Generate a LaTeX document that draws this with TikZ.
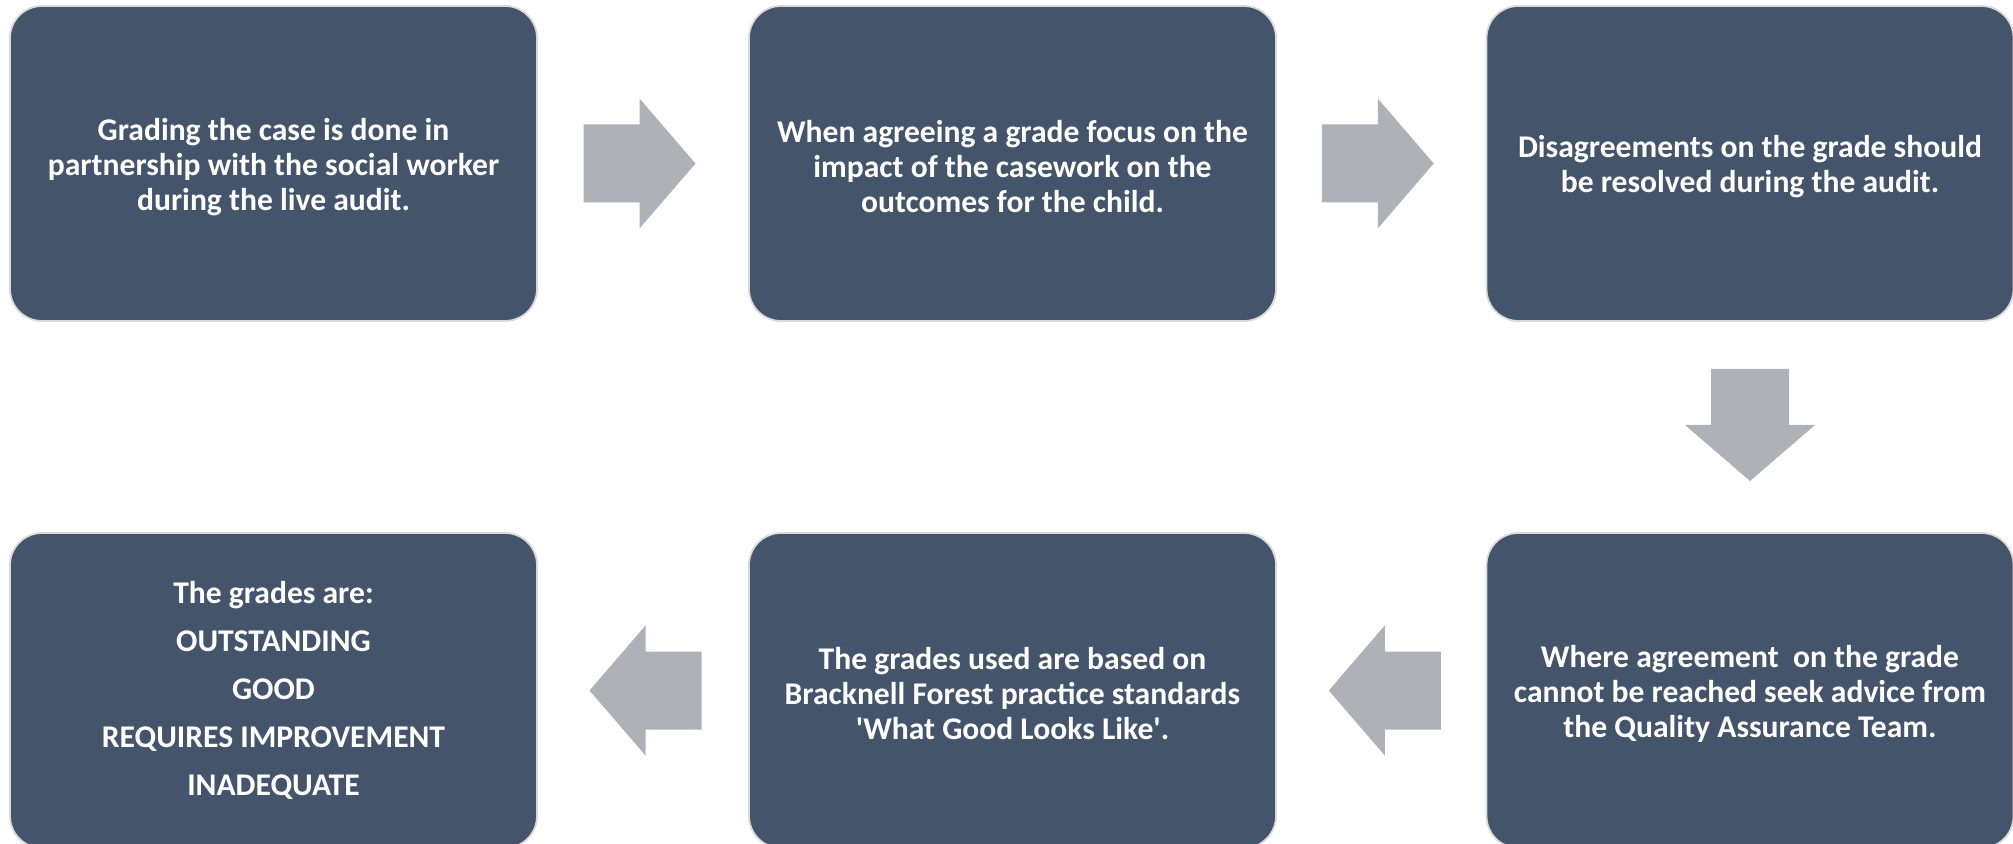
\documentclass[tikz,border=0pt]{standalone}
\usepackage{fontspec}
\setmainfont{Carlito}
\usetikzlibrary{calc}
\definecolor{boxfill}{HTML}{44546A}
\definecolor{boxline}{HTML}{D9D9D9}
\definecolor{arrowfill}{HTML}{AEB1B8}
\begin{document}
\begin{tikzpicture}[x=0.5pt,y=-0.5pt,
  steptext/.style={text=white, align=center, inner sep=0pt, yshift=-1.6pt,
    font=\bfseries\fontsize{15.8}{17.5}\selectfont},
  stepbox/.style={draw=boxline, line width=0.9pt, fill=boxfill, rounded corners=16pt,
    minimum width=263.5pt, minimum height=157.5pt, inner sep=0pt,
    label={[steptext]center:{#1}}},
  blockarrow/.pic={\fill[arrowfill] (-56,-39) -- (0,-39) -- (0,-65) -- (56,0) -- (0,65) -- (0,39) -- (-56,39) -- cycle;}]
\useasboundingbox (0,0) rectangle (2013,844);

% top row
\node[stepbox={Grading the case is done in\\partnership with the social worker\\during the live audit.}] (b1) at (273.5,163.5) {};
\node[stepbox={When agreeing a grade focus on the\\impact of the casework on the\\outcomes for the child.}] (b2) at (1012.5,163.5) {};
\node[stepbox={Disagreements on the grade should\\be resolved during the audit.}] (b3) at (1750,163.5) {};

% bottom row (runs past the lower edge of the page)
\node[stepbox={Where agreement\ \ on the grade\\cannot be reached seek advice from\\the Quality Assurance Team.}] (b4) at (1750,690.5) {};
\node[stepbox={The grades used are based on\\Bracknell Forest practice standards\\\textquotesingle What Good Looks Like\textquotesingle.}] (b5) at (1012.5,690.5) {};
\node[draw=boxline, line width=0.9pt, fill=boxfill, rounded corners=16pt,
  minimum width=263.5pt, minimum height=157.5pt, inner sep=0pt, text=white, align=center,
  font=\bfseries\fontsize{15.8}{24}\selectfont] (b6) at (273.5,690.5)
  {The grades are:\\OUTSTANDING\\GOOD\\REQUIRES IMPROVEMENT\\INADEQUATE};

% block arrows in the gaps between the boxes
\pic at ($(b1.east)!0.5!(b2.west)+(-3.5,0)$) {blockarrow};
\pic at ($(b2.east)!0.5!(b3.west)+(-3.5,0)$) {blockarrow};
\pic[rotate=-90] at ($(b3.south)!0.5!(b4.north)+(0,-2)$) {blockarrow};
\pic[rotate=180] at ($(b4.west)!0.5!(b5.east)+(3.5,0)$) {blockarrow};
\pic[rotate=180] at ($(b5.west)!0.5!(b6.east)+(2.5,0)$) {blockarrow};
\end{tikzpicture}
\end{document}
